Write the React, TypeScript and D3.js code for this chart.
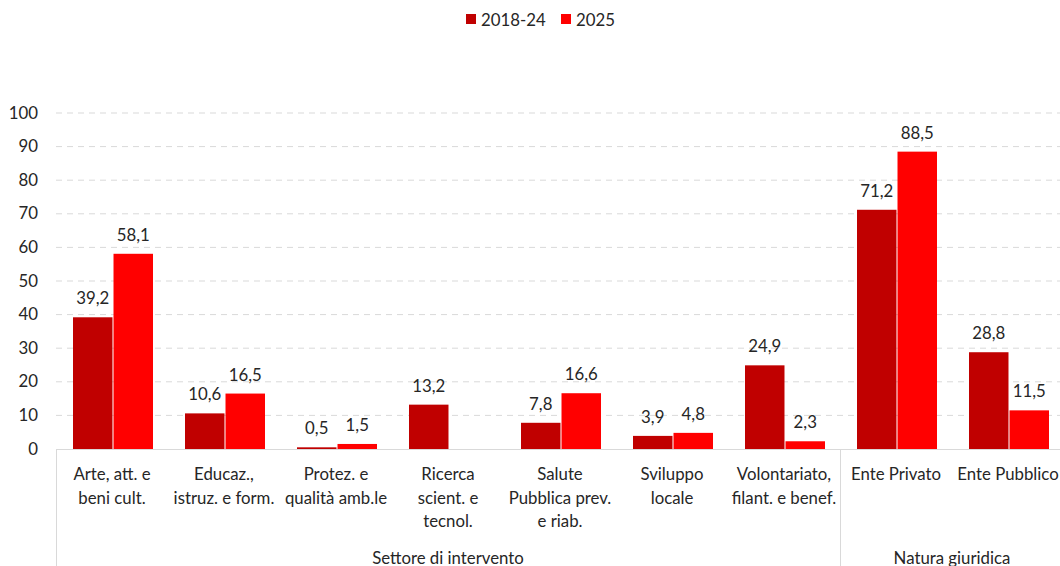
import React from "react";
import * as d3 from "d3";

const categories: string[][] = [
  ["Arte, att. e", "beni cult."],
  ["Educaz.,", "istruz. e form."],
  ["Protez. e", "qualità amb.le"],
  ["Ricerca", "scient. e", "tecnol."],
  ["Salute", "Pubblica prev.", "e riab."],
  ["Sviluppo", "locale"],
  ["Volontariato,", "filant. e benef."],
  ["Ente Privato"],
  ["Ente Pubblico"],
];
const series2018: (number | null)[] = [39.2, 10.6, 0.5, 13.2, 7.8, 3.9, 24.9, 71.2, 28.8];
const series2025: (number | null)[] = [58.1, 16.5, 1.5, null, 16.6, 4.8, 2.3, 88.5, 11.5];
const seriesNames = ["2018-24", "2025"];
const colors = ["#C00000", "#FF0000"];
const yTicks = [0, 10, 20, 30, 40, 50, 60, 70, 80, 90, 100];
const groups = [
  { name: "Settore di intervento", from: 0, to: 7 },
  { name: "Natura giuridica", from: 7, to: 9 },
];

const W = 1060;
const H = 566;
const FONT = "Lato, 'Noto Sans', sans-serif";
const FS = 16.8;

export default function App() {
  const left = 56;
  const bandW = 112;
  const x = d3
    .scaleBand<number>()
    .domain(categories.map((_, i) => i))
    .range([left, left + bandW * categories.length])
    .paddingInner(0)
    .paddingOuter(0);
  const inner = d3.scaleBand<number>().domain([0, 1]).range([17, 17 + 80]).paddingInner(0.025);
  const y = d3.scaleLinear().domain([0, 100]).range([449, 113]);
  const fmt = (v: number) => v.toFixed(1).replace(".", ",");
  const allSeries = [series2018, series2025];

  return (
    <svg
      width={W}
      height={H}
      style={{ position: "absolute", left: 0, top: 0, background: "#fff" }}
      fontFamily={FONT}
    >
      {/* legend */}
      {seriesNames.map((n, i) => {
        const lx = [466, 561][i];
        return (
          <g key={n}>
            <rect x={lx} y={14} width={10} height={10} fill={colors[i]} />
            <text x={lx + 15} y={25.5} fontSize={FS} fill="#262626">
              {n}
            </text>
          </g>
        );
      })}
      {/* gridlines & y ticks */}
      {yTicks.map((t) => (
        <g key={t}>
          {t > 0 && (
            <line
              x1={left}
              x2={W}
              y1={y(t)}
              y2={y(t)}
              stroke="#d9d9d9"
              strokeWidth={1}
              strokeDasharray="6,5"
            />
          )}
          <text x={38} y={y(t) + 5.5} textAnchor="end" fontSize={FS} fill="#262626">
            {t}
          </text>
        </g>
      ))}
      {/* bars */}
      {categories.map((_, ci) =>
        allSeries.map((s, si) => {
          const v = s[ci];
          if (v === null) return null;
          const bx = (x(ci) as number) + (inner(si) as number);
          const bw = inner.bandwidth();
          return (
            <g key={`${ci}-${si}`}>
              <rect x={bx} y={y(v)} width={bw} height={y(0) - y(v)} fill={colors[si]} />
              <text
                x={bx + bw / 2}
                y={y(v) - 13}
                textAnchor="middle"
                fontSize={FS}
                fill="#262626"
              >
                {fmt(v)}
              </text>
            </g>
          );
        })
      )}
      {/* axis line */}
      <line x1={left} x2={W} y1={449.5} y2={449.5} stroke="#d9d9d9" strokeWidth={1} />
      {/* group separators */}
      <line x1={left + 0.5} x2={left + 0.5} y1={449} y2={H} stroke="#d9d9d9" strokeWidth={1} />
      <line
        x1={(x(7) as number) + 0.5}
        x2={(x(7) as number) + 0.5}
        y1={449}
        y2={H}
        stroke="#d9d9d9"
        strokeWidth={1}
      />
      {/* category labels */}
      {categories.map((lines, ci) => (
        <text
          key={ci}
          x={(x(ci) as number) + bandW / 2}
          textAnchor="middle"
          fontSize={FS}
          fill="#262626"
        >
          {lines.map((l, li) => (
            <tspan key={li} x={(x(ci) as number) + bandW / 2} y={480 + li * 23.5}>
              {l}
            </tspan>
          ))}
        </text>
      ))}
      {/* group labels */}
      {groups.map((g) => (
        <text
          key={g.name}
          x={((x(g.from) as number) + (x(g.to - 1) as number) + bandW) / 2}
          y={564}
          textAnchor="middle"
          fontSize={FS}
          fill="#262626"
        >
          {g.name}
        </text>
      ))}
    </svg>
  );
}
